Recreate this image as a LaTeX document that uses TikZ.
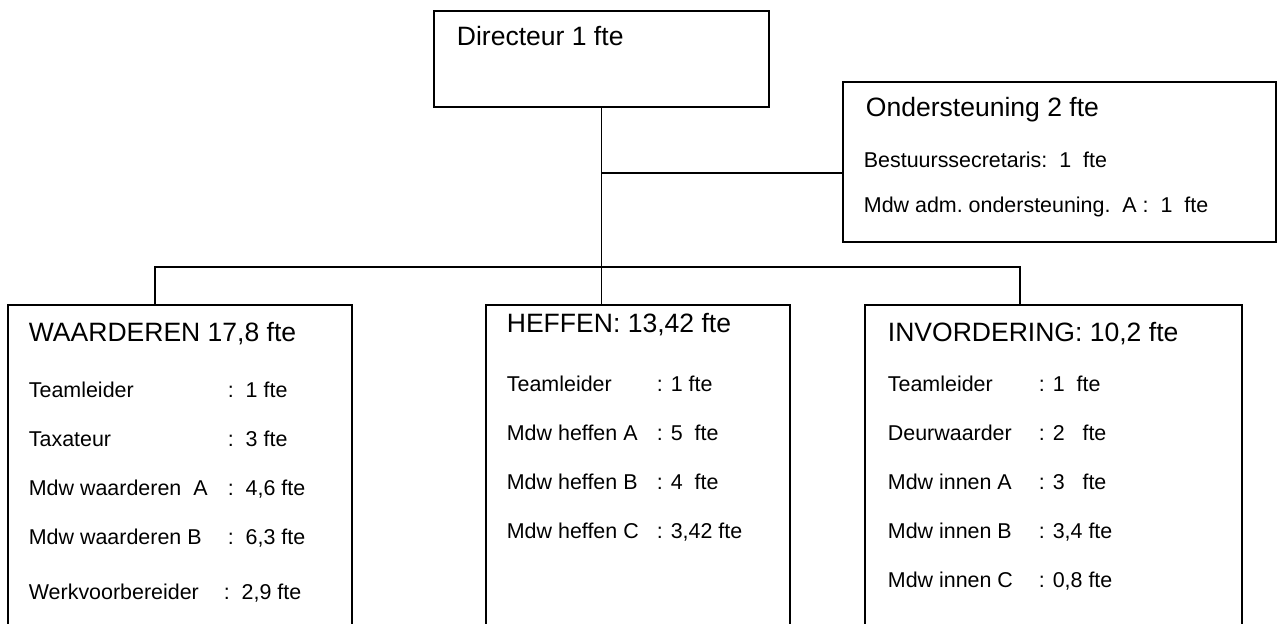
\documentclass[tikz,border=0pt]{standalone}
\usepackage{fontspec}
\setmainfont{Liberation Sans}
\usepackage{array}

\newcommand{\kopfont}{\fontsize{15.1pt}{18pt}\selectfont}
\newcommand{\regelfont}{\fontsize{12.2pt}{9.8mm}\selectfont}

\begin{document}
\begin{tikzpicture}[x=0.2mm,y=-0.2mm,line width=1pt,
  vak/.style={draw,rectangle,line width=1.1pt,anchor=north west,inner sep=0pt,outer sep=0pt},
  kopje/.style={anchor=base west,inner sep=0pt,font=\kopfont},
  lijst/.style={anchor=base west,inner sep=0pt,font=\regelfont}]
\useasboundingbox (0,0) rectangle (1278,623);
\clip (0,0) rectangle (1278,623);

% vakken
\node[vak,minimum width=67mm,minimum height=19.2mm]   (dir)    at (434,11)  {};
\node[vak,minimum width=86.6mm,minimum height=32mm]   (onder)  at (843,82)  {};
\node[vak,minimum width=68.8mm,minimum height=80mm]   (waard)  at (8,305)   {};
\node[vak,minimum width=60.8mm,minimum height=80mm]   (heffen) at (486,305) {};
\node[vak,minimum width=75.4mm,minimum height=80mm]   (invord) at (865,305) {};

% teksten
\node[kopje] (dirT)    at (456,46)  {Directeur 1 fte};
\node[kopje] (onderT)  at (865,116) {Ondersteuning 2 fte};
\node[kopje] (waardT)  at (28,341)  {WAARDEREN 17,8 fte};
\node[kopje] (heffenT) at (506,332) {HEFFEN: 13,42 fte};
\node[kopje] (invordT) at (887,341) {INVORDERING: 10,2 fte};

\node[lijst] (onderL) at (863,167) {\begin{tabular}[t]{@{}l@{}}
  Bestuurssecretaris:~~1~~fte\\[-0.8mm]
  Mdw adm.\ ondersteuning.~~A :~~1~~fte
\end{tabular}};
\node[lijst] (waardL) at (28,397) {\begin{tabular}[t]{@{}p{39.8mm}@{}l@{}}
  Teamleider & :~~1 fte\\
  Taxateur & :~~3 fte\\
  Mdw waarderen~~A & :~~4,6 fte\\
  Mdw waarderen B & :~~6,3 fte\\[1.2mm]
  Werkvoorbereider & \hspace*{-0.8mm}:~~2,9 fte
\end{tabular}};
\node[lijst] (heffenL) at (506,391) {\begin{tabular}[t]{@{}p{30mm}@{}l@{}}
  Teamleider & : 1 fte\\
  Mdw heffen A & : 5~~fte\\
  Mdw heffen B & : 4~~fte\\
  Mdw heffen C & : 3,42 fte
\end{tabular}};
\node[lijst] (invordL) at (887,391) {\begin{tabular}[t]{@{}p{30.2mm}@{}l@{}}
  Teamleider & : 1~~fte\\
  Deurwaarder & : 2~~~fte\\
  Mdw innen A & : 3~~~fte\\
  Mdw innen B & : 3,4 fte\\
  Mdw innen C & : 0,8 fte
\end{tabular}};

% lijnen
\coordinate (tak)  at (0,173);
\coordinate (busL) at (155,267);
\coordinate (busR) at (1020,267);
\draw (dir.south) -- (dir.south |- heffen.north);
\draw (dir.south |- tak) -- (onder.west |- tak);
\draw (busL |- waard.north) -- (busL) -- (busR) -- (busR |- invord.north);
\end{tikzpicture}
\end{document}
